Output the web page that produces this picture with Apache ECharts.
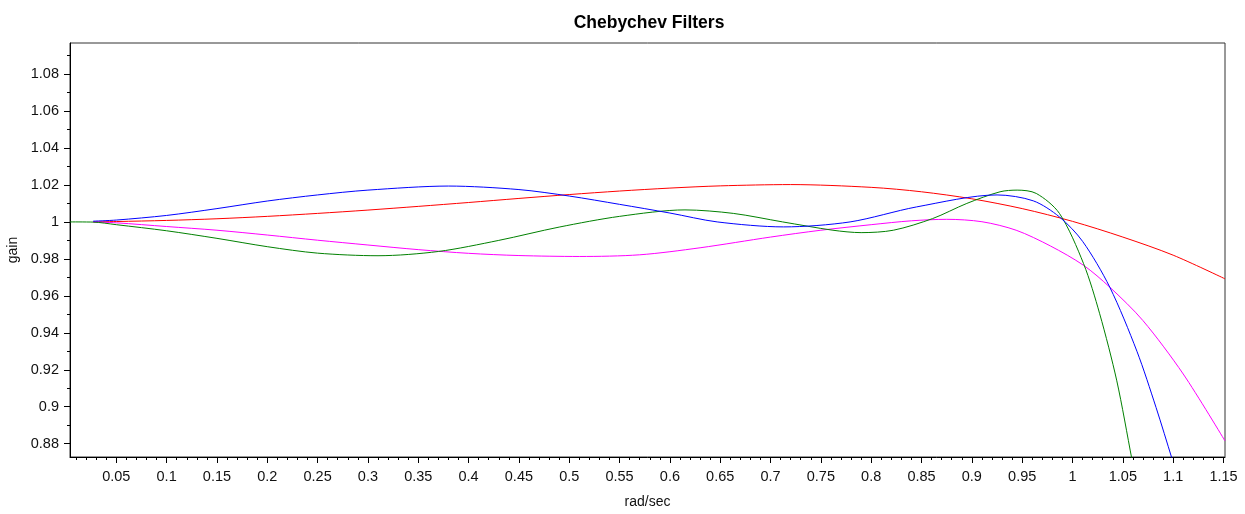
<!DOCTYPE html>
<html>
<head>
<meta charset="utf-8">
<script src="https://cdn.jsdelivr.net/npm/echarts@6/dist/echarts.min.js"></script>
<style>
  html, body { margin: 0; padding: 0; background: #fff; }
  #chart { width: 1245px; height: 514px; }
</style>
</head>
<body>
<div id="chart"></div>
<script>
// ---- data ----
const titleText = 'Chebychev Filters';
const xName = 'rad/sec';
const yName = 'gain';

const xMajorTicks = [0.05, 0.1, 0.15, 0.2, 0.25, 0.3, 0.35, 0.4, 0.45, 0.5, 0.55, 0.6, 0.65, 0.7, 0.75, 0.8, 0.85, 0.9, 0.95, 1, 1.05, 1.1, 1.15];
const xMinorTicks = [0.01,0.02,0.03,0.04,0.06,0.07,0.08,0.09,0.11,0.12,0.13,0.14,0.16,0.17,0.18,0.19,0.21,0.22,0.23,0.24,0.26,0.27,0.28,0.29,0.31,0.32,0.33,0.34,0.36,0.37,0.38,0.39,0.41,0.42,0.43,0.44,0.46,0.47,0.48,0.49,0.51,0.52,0.53,0.54,0.56,0.57,0.58,0.59,0.61,0.62,0.63,0.64,0.66,0.67,0.68,0.69,0.71,0.72,0.73,0.74,0.76,0.77,0.78,0.79,0.81,0.82,0.83,0.84,0.86,0.87,0.88,0.89,0.91,0.92,0.93,0.94,0.96,0.97,0.98,0.99,1.01,1.02,1.03,1.04,1.06,1.07,1.08,1.09,1.11,1.12,1.13,1.14];
const yMajorTicks = [0.88, 0.9, 0.92, 0.94, 0.96, 0.98, 1, 1.02, 1.04, 1.06, 1.08];
const yMinorTicks = [0.89, 0.91, 0.93, 0.95, 0.97, 0.99, 1.01, 1.03, 1.05, 1.07, 1.09];

const xRange = [0.004, 1.1515];
const yRange = [0.8728, 1.0968];

const redX = [0.027, 0.05, 0.1, 0.15, 0.2, 0.25, 0.3, 0.35, 0.4, 0.45, 0.5, 0.55, 0.6, 0.65, 0.72, 0.8, 0.85, 0.9, 0.95, 1.0, 1.05, 1.1, 1.1515];
const redY = [1.0000, 1.0002, 1.0008, 1.0017, 1.0030, 1.0046, 1.0064, 1.0084, 1.0105, 1.0127, 1.0148, 1.0167, 1.0183, 1.0195, 1.0202, 1.0187, 1.0163, 1.0125, 1.0072, 1.0003, 0.9918, 0.9820, 0.9692];

const blueX = [0.027, 0.05, 0.1, 0.15, 0.2, 0.25, 0.3, 0.38, 0.45, 0.5, 0.55, 0.6, 0.647, 0.713, 0.779, 0.845, 0.925, 0.961, 0.987, 1.01, 1.037, 1.064, 1.083, 1.099, 1.11];
const blueY = [1.0004, 1.0010, 1.0035, 1.0072, 1.0113, 1.0146, 1.0172, 1.0194, 1.0175, 1.0140, 1.0095, 1.0048, 1.0000, 0.9973, 1.0000, 1.0081, 1.0146, 1.0114, 1.0027, 0.9895, 0.9647, 0.9300, 0.8996, 0.8716, 0.8520];

const greenX = [0.004, 0.027, 0.05, 0.1, 0.15, 0.2, 0.25, 0.31, 0.37, 0.43, 0.49, 0.55, 0.615, 0.663, 0.712, 0.762, 0.79, 0.822, 0.861, 0.895, 0.928, 0.945, 0.964, 0.987, 1.011, 1.027, 1.044, 1.059, 1.066];
const greenY = [1.0000, 0.9999, 0.9985, 0.9952, 0.9911, 0.9866, 0.9831, 0.9817, 0.9840, 0.9900, 0.9972, 1.0030, 1.0065, 1.0046, 1.0000, 0.9955, 0.9942, 0.9955, 1.0018, 1.0100, 1.0163, 1.0172, 1.0154, 1.0046, 0.9774, 0.9503, 0.9140, 0.8716, 0.8520];

const magentaX = [0.027, 0.05, 0.1, 0.15, 0.2, 0.25, 0.3, 0.35, 0.4, 0.45, 0.51, 0.57, 0.63, 0.7, 0.75, 0.8, 0.84, 0.875, 0.91, 0.944, 0.978, 1.011, 1.037, 1.07, 1.11, 1.1515];
const magentaY = [1.0000, 0.9995, 0.9975, 0.9955, 0.9929, 0.9901, 0.9875, 0.9850, 0.9830, 0.9818, 0.9813, 0.9822, 0.9860, 0.9918, 0.9955, 0.9985, 1.0006, 1.0014, 1.0001, 0.9955, 0.9870, 0.9765, 0.9647, 0.9466, 0.9177, 0.8815];

const seriesColors = { red: '#ff0000', blue: '#0000ff', green: '#008000', magenta: '#ff00ff' };

// ---- chart ----
const zip = (xs, ys) => xs.map((x, i) => [x, ys[i]]);
const font = 'Liberation Sans, Arial, sans-serif';
const textColor = '#111';

const chart = echarts.init(document.getElementById('chart'), null, { renderer: 'canvas' });

function lineSeries(name, xs, ys, color) {
  return {
    name, type: 'line', data: zip(xs, ys), smooth: 0.3, showSymbol: false, symbol: 'none',
    clip: true, xAxisIndex: 0, yAxisIndex: 0,
    lineStyle: { color, width: 1 }, itemStyle: { color }, animation: false
  };
}

const option = {
  animation: false,
  backgroundColor: '#fff',
  title: {
    text: titleText, left: 644, top: 9, textAlign: 'center',
    textStyle: { fontFamily: font, fontSize: 17.5, fontWeight: 'bold', color: '#000' }
  },
  grid: { left: 70, right: 20, top: 43, bottom: 57, show: true, borderColor: '#333', borderWidth: 1,
          backgroundColor: 'transparent', containLabel: false, outerBoundsMode: 'none' },
  xAxis: [
    {
      type: 'value', min: xRange[0], max: xRange[1], position: 'bottom',
      name: xName, nameLocation: 'middle', nameGap: 38,
      nameTextStyle: { fontFamily: font, fontSize: 14, color: textColor },
      axisLine: { show: true, lineStyle: { color: '#000', width: 1 } },
      axisTick: { show: true, length: 6, customValues: xMajorTicks, lineStyle: { color: '#000' } },
      axisLabel: { show: true, customValues: xMajorTicks, margin: 12, fontFamily: font, fontSize: 14.5, color: textColor,
        formatter: v => String(+v.toFixed(2)) },
      splitLine: { show: false }
    },
    {
      type: 'value', min: xRange[0], max: xRange[1], position: 'bottom',
      axisLine: { show: false },
      axisTick: { show: true, length: 3, customValues: xMinorTicks, lineStyle: { color: '#000' } },
      axisLabel: { show: false },
      splitLine: { show: false }
    }
  ],
  yAxis: [
    {
      type: 'value', min: yRange[0], max: yRange[1], position: 'left',
      name: yName, nameLocation: 'middle', nameGap: 50, nameRotate: 90,
      nameTextStyle: { fontFamily: font, fontSize: 14, color: textColor },
      axisLine: { show: true, lineStyle: { color: '#000', width: 1 } },
      axisTick: { show: true, length: 6, customValues: yMajorTicks, lineStyle: { color: '#000' } },
      axisLabel: { show: true, customValues: yMajorTicks, margin: 11, fontFamily: font, fontSize: 14.5, color: textColor,
        formatter: v => String(+v.toFixed(2)) },
      splitLine: { show: false }
    },
    {
      type: 'value', min: yRange[0], max: yRange[1], position: 'left',
      axisLine: { show: false },
      axisTick: { show: true, length: 3, customValues: yMinorTicks, lineStyle: { color: '#000' } },
      axisLabel: { show: false },
      splitLine: { show: false }
    }
  ],
  series: [
    lineSeries('red', redX, redY, seriesColors.red),
    lineSeries('magenta', magentaX, magentaY, seriesColors.magenta),
    lineSeries('green', greenX, greenY, seriesColors.green),
    lineSeries('blue', blueX, blueY, seriesColors.blue)
  ]
};
chart.setOption(option);
</script>
</body>
</html>
